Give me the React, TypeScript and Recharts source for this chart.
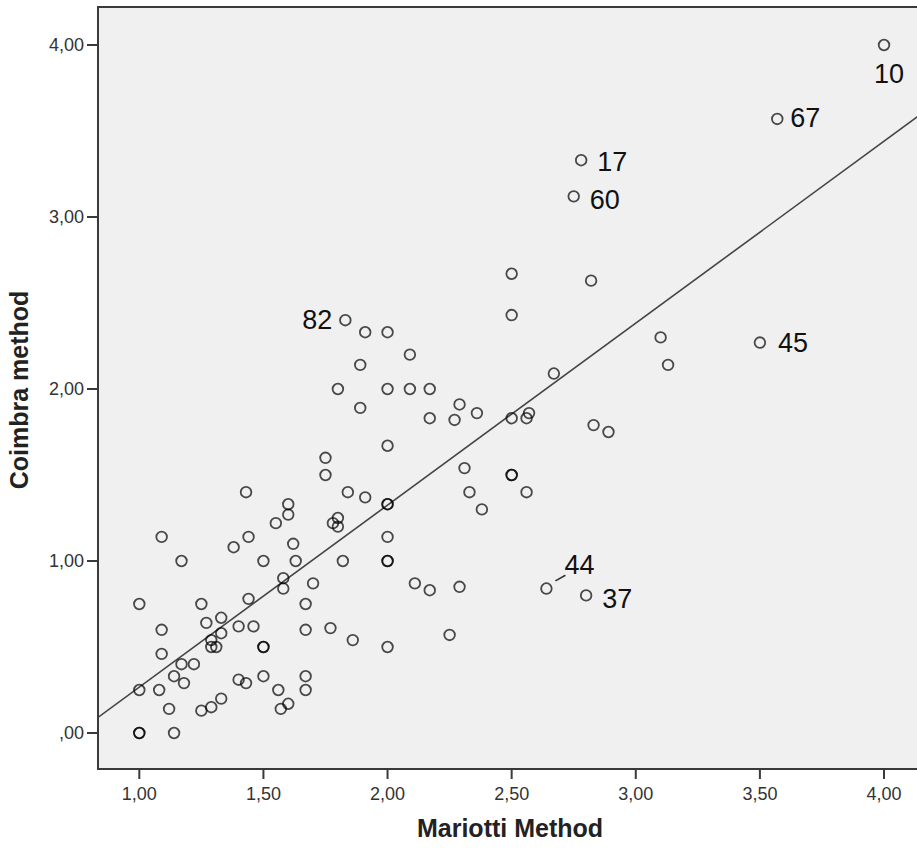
import { ScatterChart, Scatter, XAxis, YAxis, ReferenceArea, ReferenceLine, Label } from "recharts";

// Mariotti vs Coimbra scores
const mariotti = [
  1.43, 1.6, 1.6, 1.55, 1.09, 1.44, 1.38, 1.62, 1.17, 1.5, 1.63, 1.58, 1.58, 1.7, 1.0, 1.25, 1.44, 1.67,
  1.27, 1.33, 1.09, 1.33, 1.4, 1.46, 1.67, 1.29, 1.29, 1.31, 1.5, 1.5, 1.09, 1.17, 1.22, 1.14, 1.18, 1.0,
  1.08, 1.4, 1.43, 1.5, 1.67, 1.67, 1.56, 1.12, 1.25, 1.29, 1.33, 1.57, 1.6, 1.0, 1.0, 1.14,
  2.17, 2.27, 2.0, 1.75, 1.75, 1.84, 1.91, 2.0, 2.0, 2.31, 2.33, 2.38, 2.5, 2.5, 1.78, 1.8, 1.8, 2.0,
  2.0, 2.0, 1.82, 1.77, 1.86, 2.0, 2.11, 2.17, 2.29, 2.25,
  1.91, 2.0, 2.09, 1.89, 1.8, 2.0, 2.09, 2.17, 1.89,
  2.5, 2.82, 2.5, 3.1, 3.13, 2.67, 2.29, 2.36, 2.5, 2.56, 2.57, 2.83, 2.89, 2.56,
];
const coimbra = [
  1.4, 1.33, 1.27, 1.22, 1.14, 1.14, 1.08, 1.1, 1.0, 1.0, 1.0, 0.9, 0.84, 0.87, 0.75, 0.75, 0.78, 0.75,
  0.64, 0.67, 0.6, 0.58, 0.62, 0.62, 0.6, 0.54, 0.5, 0.5, 0.5, 0.5, 0.46, 0.4, 0.4, 0.33, 0.29, 0.25,
  0.25, 0.31, 0.29, 0.33, 0.33, 0.25, 0.25, 0.14, 0.13, 0.15, 0.2, 0.14, 0.17, 0.0, 0.0, 0.0,
  1.83, 1.82, 1.67, 1.6, 1.5, 1.4, 1.37, 1.33, 1.33, 1.54, 1.4, 1.3, 1.5, 1.5, 1.22, 1.25, 1.2, 1.14,
  1.0, 1.0, 1.0, 0.61, 0.54, 0.5, 0.87, 0.83, 0.85, 0.57,
  2.33, 2.33, 2.2, 2.14, 2.0, 2.0, 2.0, 2.0, 1.89,
  2.67, 2.63, 2.43, 2.3, 2.14, 2.09, 1.91, 1.86, 1.83, 1.83, 1.86, 1.79, 1.75, 1.4,
];

// labelled cases
const flaggedCases = ["10", "67", "17", "60", "45", "82", "44", "37"];
const flaggedMariotti = [4.0, 3.57, 2.78, 2.75, 3.5, 1.83, 2.64, 2.8];
const flaggedCoimbra = [4.0, 3.57, 3.33, 3.12, 2.27, 2.4, 0.84, 0.8];

const xTicks = [1, 1.5, 2, 2.5, 3, 3.5, 4];
const yTicks = [0, 1, 2, 3, 4];

const X_DOMAIN: [number, number] = [0.8336, 4.153];
const Y_DOMAIN: [number, number] = [-0.2093, 4.2209];

const labelPlacement: Record<string, { dx: number; dy: number; anchor: "start" | "middle" | "end"; leader?: boolean }> = {
  "10": { dx: 5, dy: 28, anchor: "middle" },
  "67": { dx: 13, dy: -2, anchor: "start" },
  "17": { dx: 16, dy: 1, anchor: "start" },
  "60": { dx: 16, dy: 3, anchor: "start" },
  "45": { dx: 18, dy: 0, anchor: "start" },
  "82": { dx: -13, dy: -1, anchor: "end" },
  "44": { dx: 18, dy: -24, anchor: "start", leader: true },
  "37": { dx: 16, dy: 3, anchor: "start" },
};

const points = [
  ...mariotti.map((x, i) => ({ x, y: coimbra[i], label: "" })),
  ...flaggedMariotti.map((x, i) => ({ x, y: flaggedCoimbra[i], label: flaggedCases[i] })),
];

// least squares fit line
const n = points.length;
const meanX = points.reduce((s, p) => s + p.x, 0) / n;
const meanY = points.reduce((s, p) => s + p.y, 0) / n;
const sxy = points.reduce((s, p) => s + (p.x - meanX) * (p.y - meanY), 0);
const sxx = points.reduce((s, p) => s + (p.x - meanX) ** 2, 0);
const slope = sxy / sxx;
const intercept = meanY - slope * meanX;

const fmt = (v: number) => (v === 0 ? ",00" : v.toFixed(2).replace(".", ","));

const FONT = "'Liberation Sans', Arial, sans-serif";

function CaseMarker(props: any) {
  const { cx, cy, payload } = props;
  const place = payload && payload.label ? labelPlacement[payload.label] : null;
  return (
    <g>
      <circle cx={cx} cy={cy} r={5.3} fill="none" stroke="#000" strokeOpacity={0.7} strokeWidth={1.8} />
      {place ? (
        <text
          x={cx + place.dx}
          y={cy + place.dy + 9.7}
          textAnchor={place.anchor}
          fontSize={27}
          fontFamily={FONT}
          fill="#111"
        >
          {payload.label}
        </text>
      ) : null}
      {place && place.leader ? (
        <line x1={cx + 9} y1={cy - 7.6} x2={cx + 19} y2={cy - 13.3} stroke="#333" strokeWidth={1.6} />
      ) : null}
    </g>
  );
}

const renderXTitle = (props: any) => {
  const vb = props.viewBox;
  return (
    <text x={vb.x + vb.width / 2} y={837} textAnchor="middle" fontSize={25} fontWeight="bold" fontFamily={FONT} fill="#222">
      Mariotti Method
    </text>
  );
};

const renderYTitle = (props: any) => {
  const vb = props.viewBox;
  const cy = vb.y + vb.height / 2 + 2;
  return (
    <text x={28} y={cy} transform={`rotate(-90, 28, ${cy})`} textAnchor="middle" fontSize={25} fontWeight="bold" fontFamily={FONT} fill="#222">
      Coimbra method
    </text>
  );
};

export default function App() {
  return (
    <div style={{ position: "absolute", left: 0, top: 0, width: 917, height: 851, overflow: "hidden", background: "#fff", fontFamily: FONT }}>
      <ScatterChart width={922} height={851} margin={{ top: 7, right: 0, bottom: 0, left: 0 }}>
        <ReferenceArea
          x1={X_DOMAIN[0]}
          x2={X_DOMAIN[1]}
          y1={Y_DOMAIN[0]}
          y2={Y_DOMAIN[1]}
          fill="#f0f0f0"
          fillOpacity={1}
          stroke="#3a3a3a"
          strokeWidth={2}
          ifOverflow="visible"
        />
        <XAxis
          type="number"
          dataKey="x"
          domain={X_DOMAIN}
          allowDataOverflow
          ticks={xTicks}
          tickFormatter={fmt}
          height={82}
          tickSize={10}
          tickMargin={8}
          axisLine={{ stroke: "#3a3a3a", strokeWidth: 2 }}
          tickLine={{ stroke: "#3a3a3a", strokeWidth: 2 }}
          tick={{ fill: "#333", fontSize: 18, fontFamily: FONT }}
        >
          <Label content={renderXTitle} />
        </XAxis>
        <YAxis
          type="number"
          dataKey="y"
          domain={Y_DOMAIN}
          allowDataOverflow
          ticks={yTicks}
          tickFormatter={fmt}
          width={98}
          tickSize={11}
          tickMargin={3}
          axisLine={{ stroke: "#3a3a3a", strokeWidth: 2 }}
          tickLine={{ stroke: "#3a3a3a", strokeWidth: 2 }}
          tick={{ fill: "#333", fontSize: 18, fontFamily: FONT }}
        >
          <Label content={renderYTitle} />
        </YAxis>
        <ReferenceLine
          segment={[
            { x: X_DOMAIN[0], y: intercept + slope * X_DOMAIN[0] },
            { x: X_DOMAIN[1], y: intercept + slope * X_DOMAIN[1] },
          ]}
          stroke="#444"
          strokeWidth={1.6}
          ifOverflow="hidden"
        />
        <Scatter data={points} shape={CaseMarker} isAnimationActive={false} />
      </ScatterChart>
    </div>
  );
}
